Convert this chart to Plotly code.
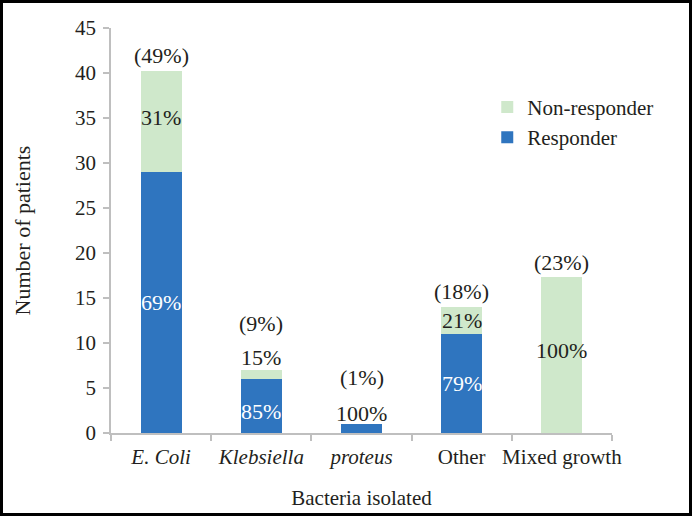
import plotly.graph_objects as go

categories = ["E. Coli", "Klebsiella", "proteus", "Other", "Mixed growth"]
italic = [True, True, True, False, False]
responder = [29, 6, 1, 11, 0]
non_responder = [11.2, 1, 0, 3, 17.3]
responder_pct = ["69%", "85%", "100%", "79%", ""]
non_responder_pct = ["31%", "15%", "", "21%", "100%"]
group_pct = ["(49%)", "(9%)", "(1%)", "(18%)", "(23%)"]

labels = [f"<i>{c}</i>" if it else c for c, it in zip(categories, italic)]

BLUE = "#2F75BF"
GREEN = "#CFE8CB"
FONT = "'Liberation Serif', 'Times New Roman', serif"
TXT = "#231f20"
FS = 21
AFS = 22

fig = go.Figure()
fig.add_trace(go.Bar(x=labels, y=responder, name="Responder", marker_color=BLUE,
                     marker_line_width=0, width=0.41))
fig.add_trace(go.Bar(x=labels, y=non_responder, name="Non-responder", marker_color=GREEN,
                     marker_line_width=0, width=0.41))

ann = []
for i, lab in enumerate(labels):
    r, n = responder[i], non_responder[i]
    top = r + n
    above_label = False
    if responder_pct[i]:
        if r >= 3:
            ann.append(dict(x=lab, y=r / 2 if r > 8 else r / 2 - 0.6, text=responder_pct[i],
                            font=dict(color="white", size=AFS, family=FONT)))
        else:
            ann.append(dict(x=lab, y=top + 1.2, text=responder_pct[i],
                            font=dict(color=TXT, size=AFS, family=FONT)))
            above_label = True
    if non_responder_pct[i]:
        if n >= 2.5:
            ann.append(dict(x=lab, y=r + n / 2 + (0.5 if n > 8 else 0), text=non_responder_pct[i],
                            font=dict(color=TXT, size=AFS, family=FONT)))
        else:
            ann.append(dict(x=lab, y=top + 1.4, text=non_responder_pct[i],
                            font=dict(color=TXT, size=AFS, family=FONT)))
            above_label = True
    ann.append(dict(x=lab, y=top + (5.2 if above_label else 1.7), text=group_pct[i],
                    font=dict(color=TXT, size=AFS, family=FONT)))
for a in ann:
    a.update(showarrow=False, xref="x", yref="y")

L, R, T, B = 111, 80, 28, 83
W, H = 692, 516
pw, ph = W - L - R, H - T - B

fig.update_layout(
    width=W, height=H,
    margin=dict(l=L, r=R, t=T, b=B, autoexpand=False),
    paper_bgcolor="white", plot_bgcolor="white",
    barmode="stack",
    font=dict(family=FONT, size=FS, color=TXT),
    annotations=ann,
    showlegend=True,
    legend=dict(x=0.751, y=0.855, xanchor="left", yanchor="top", traceorder="reversed",
                font=dict(size=FS, family=FONT, color=TXT), bgcolor="rgba(0,0,0,0)",
                itemwidth=30, tracegroupgap=0),
    xaxis=dict(showline=True, linecolor="#bfbfbf", linewidth=1.5, ticks="outside",
               tickson="boundaries", ticklen=6, tickcolor="#bfbfbf", tickwidth=1.5,
               tickangle=0, automargin=False, ticklabelstandoff=4,
               tickfont=dict(size=FS, family=FONT, color=TXT),
               title=dict(text="Bacteria isolated", font=dict(size=FS, family=FONT, color=TXT), standoff=22)),
    yaxis=dict(range=[0, 45], dtick=5, showline=True, linecolor="#bfbfbf", linewidth=1.5,
               ticks="outside", ticklen=6, tickcolor="#bfbfbf", tickwidth=1.5, showgrid=False,
               zeroline=False, automargin=False, ticklabelstandoff=3,
               tickfont=dict(size=FS, family=FONT, color=TXT),
               title=dict(text="Number of patients", font=dict(size=22, family=FONT, color=TXT), standoff=38)),
    shapes=[dict(type="rect", xref="paper", yref="paper",
                 x0=(-L + 1.5) / pw, x1=1 + (R - 1.5) / pw,
                 y0=(-B + 1.5) / ph, y1=1 + (T - 1.5) / ph,
                 line=dict(color="black", width=3), layer="above")],
)

fig.write_html("out.html", config={"displayModeBar": False},
               post_script="document.body.style.margin='0';document.body.style.overflow='hidden';")
